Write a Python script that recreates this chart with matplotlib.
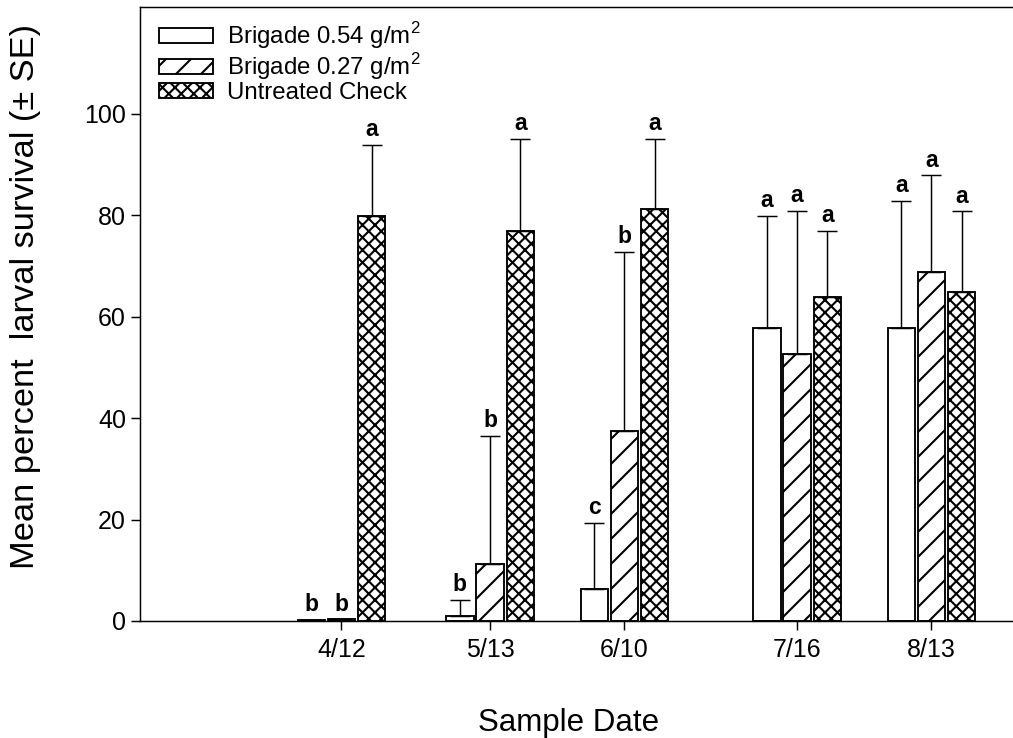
import numpy as np
import pandas as pd
import matplotlib
matplotlib.use("Agg")
import matplotlib.pyplot as plt

plt.rcParams['font.family'] = ['Liberation Sans', 'DejaVu Sans']
plt.rcParams['mathtext.fontset'] = 'custom'
plt.rcParams['mathtext.rm'] = 'Liberation Sans'
plt.rcParams['hatch.linewidth'] = 1.0

# data
dates = ['4/12', '5/13', '6/10', '7/16', '8/13']
labels = ['Brigade 0.54 g/m$^2$', 'Brigade 0.27 g/m$^2$', 'Untreated Check']
high_rate = [0.2, 1.0, 6.3, 57.7, 57.7]
low_rate = [0.3, 11.2, 37.5, 52.7, 68.7]
check = [79.8, 76.8, 81.1, 63.8, 64.8]
high_se = [0, 3.1, 13.0, 22.1, 25.1]
low_se = [0, 25.3, 35.3, 28.1, 19.1]
check_se = [14.1, 18.1, 13.8, 13.0, 15.9]
high_letters = ['b', 'b', 'c', 'a', 'a']
low_letters = ['b', 'b', 'b', 'a', 'a']
check_letters = ['a', 'a', 'a', 'a', 'a']

# bars placed by day of year
x = pd.to_datetime(dates, format='%m/%d').dayofyear.to_numpy()

fig = plt.figure(figsize=(1013 / 150, 738 / 150), dpi=150)
ax = fig.add_axes([140 / 1013, 117 / 738, 1 - 140 / 1013, (621 - 7) / 738])

width = 5.7
offsets = [-6.3, 0, 6.3]
hatches = ['', '//', 'xxxx']
groups = [(high_rate, high_se, high_letters),
          (low_rate, low_se, low_letters),
          (check, check_se, check_letters)]

for (vals, se, letters), off, h, lab in zip(groups, offsets, hatches, labels):
    pos = x + off
    ax.bar(pos, vals, width, color='white', edgecolor='black',
           linewidth=0.9, hatch=h, label=lab)
    ax.errorbar(pos, vals, yerr=[np.zeros(len(vals)), se], fmt='none',
                ecolor='black', elinewidth=0.7, capsize=4.6, capthick=0.7)
    for p, v, s, l in zip(pos, vals, se, letters):
        ax.annotate(l, (p, v + s), xytext=(0, 4.3), textcoords='offset points',
                    ha='center', va='baseline', fontweight='bold', fontsize=11)

ax.set_xlim(60, 242)
ax.set_ylim(0, 121)
ax.set_xticks(x)
ax.set_xticklabels(dates)
ax.set_yticks([0, 20, 40, 60, 80, 100])
ax.tick_params(direction='out', length=4.2, width=0.7, labelsize=12, pad=2.5)
ax.tick_params(axis='x', pad=4)

for s in ['left', 'bottom', 'top']:
    ax.spines[s].set_linewidth(0.7)
ax.spines['right'].set_visible(False)

ax.set_ylabel('Mean percent  larval survival (± SE)', fontsize=16.5)
ax.yaxis.set_label_coords(-0.113, 0.528)
ax.set_xlabel('Sample Date', fontsize=15)
ax.xaxis.set_label_coords(0.491, -0.142)

ax.legend(loc='upper left', bbox_to_anchor=(159 / 1013, 1 - 20 / 738),
          bbox_transform=fig.transFigure, frameon=False, fontsize=11.5,
          handlelength=2.25, handleheight=0.6, handletextpad=0.6,
          labelspacing=0.0, borderpad=0, borderaxespad=0)

fig.savefig('out.png', dpi=150)
